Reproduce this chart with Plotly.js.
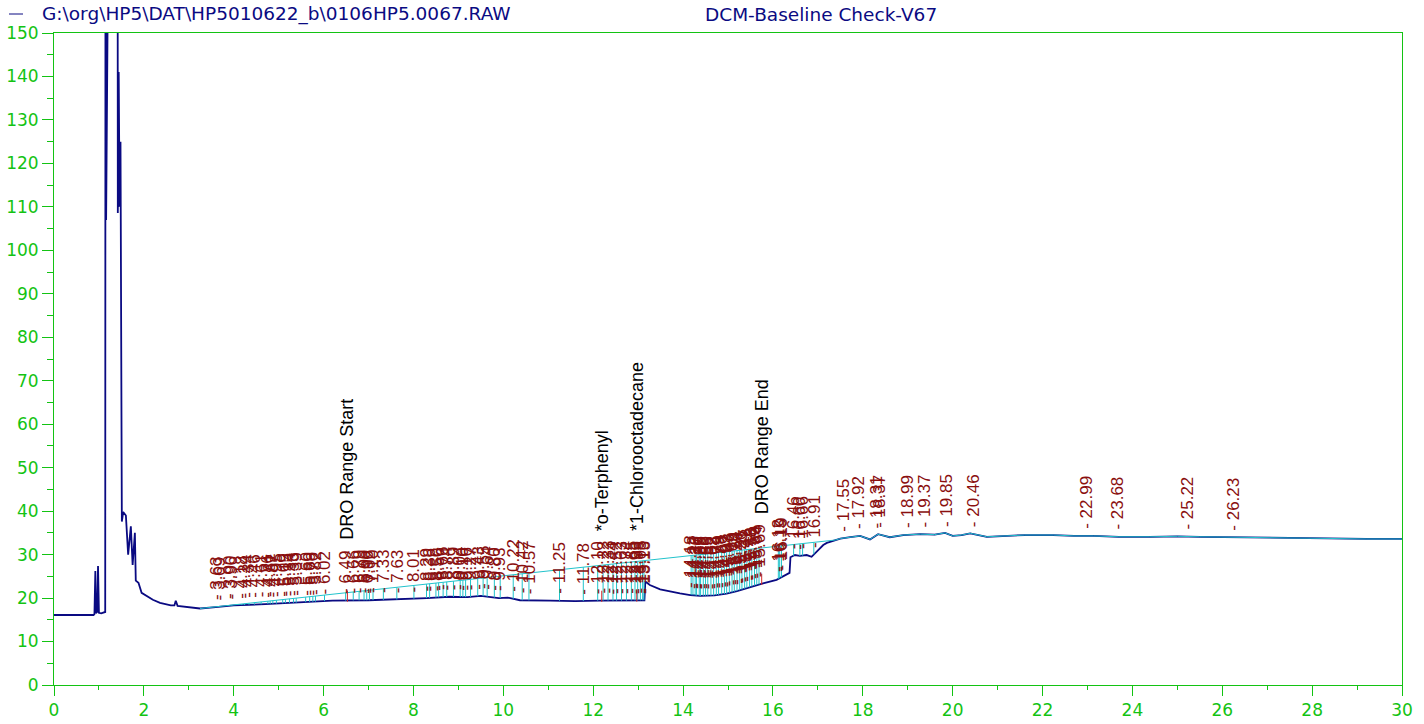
<!DOCTYPE html>
<html><head><meta charset="utf-8">
<script src="https://cdn.plot.ly/plotly-3.0.1.min.js"></script>
<style>html,body{margin:0;padding:0;background:#fff}#chart{width:1424px;height:724px}</style>
</head><body><div id="chart"></div>
<script>
// ---------- data ----------
const fileName = "G:\\org\\HP5\\DAT\\HP5010622_b\\0106HP5.0067.RAW";
const sampleName = "DCM-Baseline Check-V67";

const timeMin = [0.00,0.88,0.90,0.92,0.935,0.96,0.98,1.00,1.05,1.12,1.14,1.15,1.16,1.17,1.30,1.41,1.42,1.44,1.46,1.48,1.50,1.51,1.54,1.60,1.65,1.71,1.75,1.80,1.82,1.88,1.95,2.10,2.20,2.36,2.60,2.68,2.71,2.75,2.90,3.00,3.25,3.60,4.00,4.70,5.50,6.20,7.00,7.70,8.30,8.80,9.20,9.50,9.90,10.10,10.37,11.04,11.60,12.15,12.70,13.14,13.16,13.26,13.49,13.71,13.93,14.16,14.38,14.70,14.97,15.20,15.42,15.60,15.78,16.08,16.34,16.37,16.39,16.49,16.60,16.75,16.86,16.94,17.05,17.12,17.20,17.35,17.50,17.72,17.87,17.94,18.16,18.34,18.60,18.90,19.28,19.60,19.83,20.00,20.20,20.39,20.76,21.13,21.60,22.24,22.70,23.13,23.70,24.39,25.00,25.50,26.20,26.80,27.35,28.00,28.60,29.20,30.00];
const signal  = [16.1,16.1,16.3,26.2,16.5,16.8,27.4,16.6,16.5,16.7,16.8,300,107,300,300,300,108.6,141,110,125,60,37.6,39.8,39.0,30.0,36.5,27.6,35.0,24.0,23.5,21.2,20.2,19.6,18.9,18.3,18.3,19.4,18.2,18.0,17.9,17.6,17.9,18.3,18.6,19.0,19.4,19.5,19.7,20.0,20.3,20.2,20.5,20.0,20.1,19.5,19.4,19.3,19.4,19.4,19.5,23.8,23.0,22.0,21.5,21.1,20.7,20.5,20.6,21.0,21.6,22.3,22.9,23.4,24.2,25.6,25.8,29.4,29.9,29.7,29.9,29.5,30.4,31.6,32.2,32.7,33.2,33.7,34.0,34.3,34.3,33.5,34.7,34.0,34.5,34.7,34.6,35.0,34.3,34.5,34.9,34.1,34.3,34.5,34.5,34.3,34.3,34.1,34.1,34.2,34.1,34.0,33.9,33.9,33.7,33.7,33.6,33.6];

const peakTimes = [
  3.63,3.69,3.90,3.96,4.18,4.24,4.34,4.46,4.61,4.76,4.81,4.87,4.95,5.09,5.15,5.24,5.33,5.39,5.60,5.69,5.76,5.82,6.02,
  6.49,6.66,6.79,6.90,6.96,7.02,7.10,7.33,7.63,
  8.01,8.29,8.36,8.50,8.56,8.66,8.74,8.89,9.04,9.10,9.16,9.27,9.43,9.55,9.64,9.80,9.93,10.22,10.42,10.57,
  11.25,11.78,12.10,12.22,12.33,12.44,12.52,12.63,12.74,12.85,12.93,12.99,13.05,13.10,13.13,
  14.18,14.22,14.27,14.30,14.36,14.39,14.45,14.50,14.55,14.62,14.68,14.74,14.79,14.86,14.92,14.97,15.03,15.09,15.14,15.20,15.26,15.31,15.37,15.42,15.48,15.53,15.59,15.64,15.69,
  16.12,16.15,16.19,16.46,16.60,16.66,16.91,
  17.55,17.92,18.31,18.37,18.99,19.37,19.85,20.46,22.99,23.68,25.22,26.23];

const namedPeaks = ["DRO Range Start","*o-Terphenyl","*1-Chlorooctadecane","DRO Range End"];
const namedTimes = [6.53,12.19,12.97,15.75];
const namedRt    = ["6.49","12.10","12.98","15.76"];

const baselineTimes = [3.25, 17.4];

// ---------- helpers ----------
function interp(t){
  for(let i=0;i<timeMin.length-1;i++){
    if(t>=timeMin[i] && t<=timeMin[i+1]){
      const f=(t-timeMin[i])/(timeMin[i+1]-timeMin[i]);
      return signal[i]+f*(signal[i+1]-signal[i]);
    }
  }
  return signal[signal.length-1];
}
const b0=interp(baselineTimes[0]), b1=interp(baselineTimes[1]);
function base(t){return b0+(t-baselineTimes[0])*(b1-b0)/(baselineTimes[1]-baselineTimes[0]);}

const NAVY="#0a0a82", CYAN="#22c3cc", RED="#8a0f0f", GREEN="#13c313";

// cyan integration baseline + follow of trace after baseline end
const cx=[baselineTimes[0],baselineTimes[1]], cy=[b0,b1];
timeMin.forEach((t,i)=>{ if(t>baselineTimes[1]){cx.push(t);cy.push(signal[i]);} });

// drop lines
const dx=[], dy=[];
peakTimes.forEach(t=>{
  if(t>baselineTimes[0] && t<baselineTimes[1]){
    const bt=base(t), st=interp(t);
    if(bt>st){dx.push(t,t,null);dy.push(bt,st,null);}
  }
});

const traces=[
  {x:timeMin,y:signal,type:'scatter',mode:'lines',line:{color:NAVY,width:1.8},hoverinfo:'skip'},
  {x:cx,y:cy,type:'scatter',mode:'lines',line:{color:CYAN,width:1},hoverinfo:'skip'},
  {x:dx,y:dy,type:'scatter',mode:'lines',line:{color:CYAN,width:1},hoverinfo:'skip'},
  {x:namedTimes,y:namedTimes.map(t=>interp(t)+1.0),type:'scatter',mode:'markers',
   marker:{symbol:'line-ns-open',size:8,line:{color:'#000',width:1}},hoverinfo:'skip'}
];

const annotations=[];
peakTimes.forEach(t=>{
  annotations.push({x:t,y:interp(t)+1.3,xref:'x',yref:'y',text:'- '+t.toFixed(2),
    textangle:-90,showarrow:false,xanchor:'center',yanchor:'bottom',borderpad:0,
    font:{family:'Liberation Sans, Arial, sans-serif',size:17,color:RED}});
});
namedPeaks.forEach((n,i)=>{
  annotations.push({x:namedTimes[i],y:interp(namedTimes[i])+1.3,xref:'x',yref:'y',text:n,
    textangle:-90,showarrow:false,xanchor:'center',yanchor:'bottom',borderpad:0,
    yshift:18+9*namedRt[i].length,
    font:{family:'Liberation Sans, Arial, sans-serif',size:18,color:'#000'}});
});
annotations.push({xref:'paper',yref:'paper',x:(40-54)/1348,y:(685-14)/652,xanchor:'left',yanchor:'middle',
  text:fileName,showarrow:false,font:{family:'DejaVu Sans, sans-serif',size:18.5,color:NAVY}});
annotations.push({xref:'paper',yref:'paper',x:(703-54)/1348,y:(685-14)/652,xanchor:'left',yanchor:'middle',
  text:sampleName,showarrow:false,font:{family:'DejaVu Sans, sans-serif',size:18.5,color:NAVY}});

const layout={
  width:1424,height:724,margin:{l:54,r:22,t:33,b:39},
  paper_bgcolor:'#fff',plot_bgcolor:'#fff',showlegend:false,
  xaxis:{range:[0,30],dtick:2,tick0:0,ticks:'outside',ticklen:10,tickcolor:GREEN,tickwidth:1,
    showline:true,linecolor:GREEN,linewidth:1,mirror:true,showgrid:false,zeroline:false,
    tickfont:{family:'DejaVu Sans, sans-serif',size:17,color:GREEN},
    minor:{dtick:1,ticklen:4,tickcolor:GREEN,ticks:'outside',showgrid:false}},
  yaxis:{range:[0,150],dtick:10,tick0:0,ticks:'outside',ticklen:11,tickcolor:GREEN,tickwidth:1,
    showline:true,linecolor:GREEN,linewidth:1,mirror:true,showgrid:false,zeroline:false,
    tickfont:{family:'DejaVu Sans, sans-serif',size:17,color:GREEN},
    minor:{dtick:5,ticklen:6,tickcolor:GREEN,ticks:'outside',showgrid:false}},
  shapes:[{type:'line',xref:'paper',yref:'paper',x0:(9-54)/1348,x1:(23-54)/1348,
    y0:(685-14)/652,y1:(685-14)/652,line:{color:NAVY,width:1}}],
  annotations:annotations
};
Plotly.newPlot('chart',traces,layout,{staticPlot:true,displayModeBar:false});
</script></body></html>
